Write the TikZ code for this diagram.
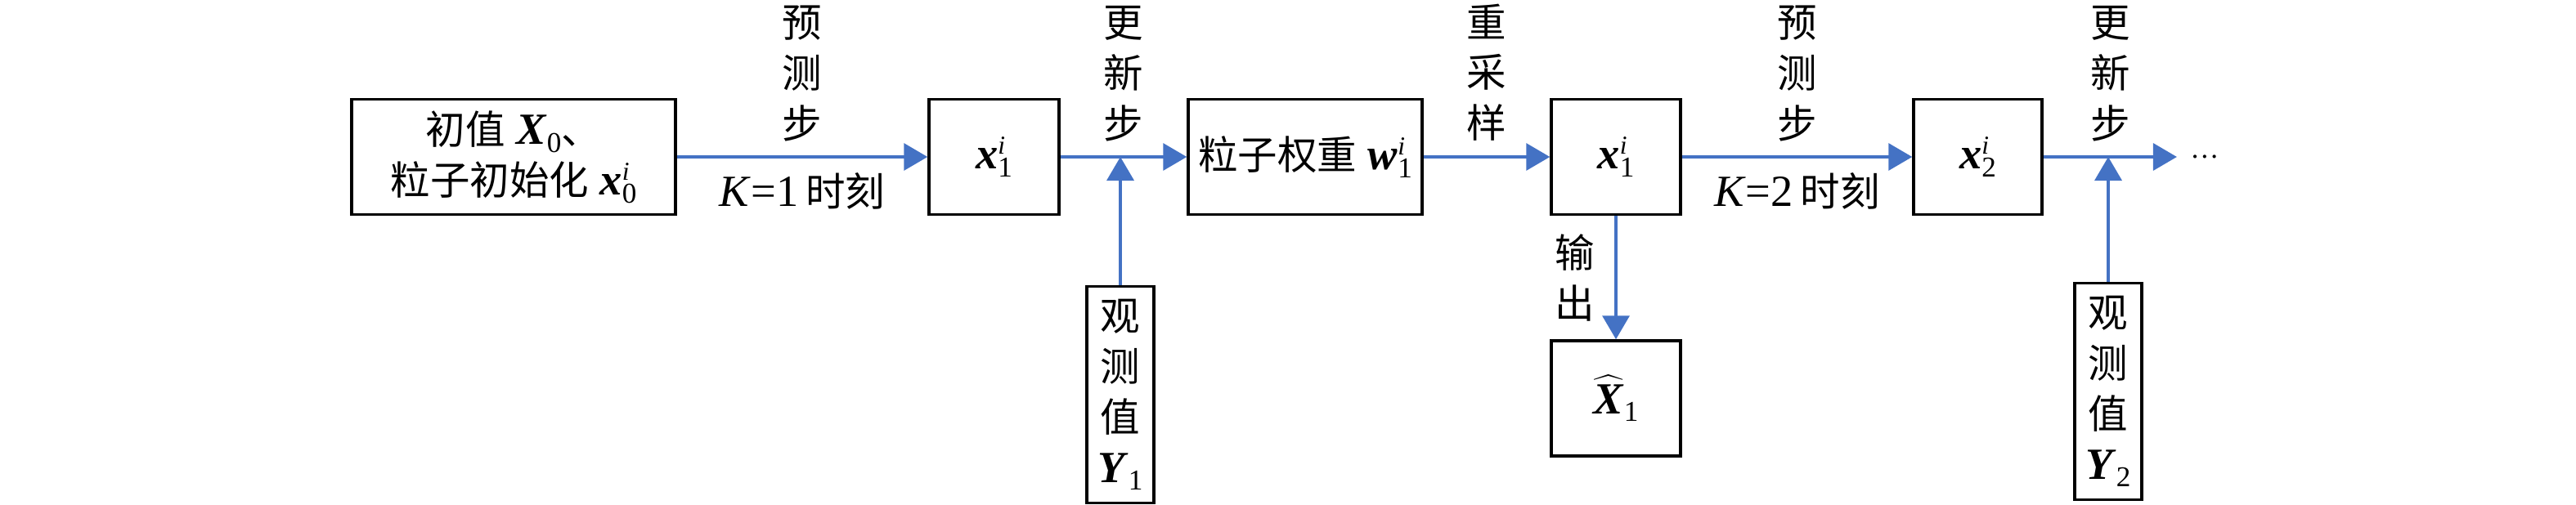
\documentclass[tikz,border=0pt]{standalone}
\usepackage{fontspec}
\setmainfont{Liberation Serif}
\newfontfamily\cjk[Scale=0.89]{Noto Sans CJK SC}
\usetikzlibrary{arrows.meta, positioning}

\newcommand{\zh}[1]{{\cjk #1}}
\newcommand{\subtxt}[1]{\raisebox{-2.8pt}{\fontsize{10}{10}\selectfont #1}}
\newcommand{\suptxt}[1]{\raisebox{5pt}{\fontsize{9}{9}\selectfont\itshape #1}}
\newcommand{\vsym}[3]{\textbf{\textit{#1}}\rlap{\suptxt{#3}}\subtxt{#2}}
\definecolor{flowblue}{RGB}{68,114,196}

\begin{document}
\begin{tikzpicture}[
        box/.style={draw, line width=1pt, minimum height=1.41cm, inner sep=0pt, align=center},
        obs/.style={draw, line width=1pt, minimum width=0.82cm, minimum height=2.65cm, inner sep=0pt, align=center},
        arr/.style={draw=flowblue, line width=1pt, -{Triangle[length=0.29cm, width=0.33cm]}},
        lbl/.style={inner sep=0pt, align=center},
        font=\fontsize{15.5}{17.6}\selectfont
    ]
        \useasboundingbox (0,0) rectangle (31.5,6.17);

        % main chain
        \node[box, minimum width=3.96cm] (init) at (6.28,4.25) {\zh{初值} \textbf{\textit{X}}\subtxt{0}\zh{、}\\\zh{粒子初始化} \vsym{x}{0}{i}};
        \node[box, minimum width=1.59cm] (pred1) at (12.155,4.25) {\vsym{x}{1}{i}};
        \node[box, minimum width=2.86cm] (wt1) at (15.96,4.25) {\zh{粒子权重} \vsym{w}{1}{i}};
        \node[box, minimum width=1.58cm] (res1) at (19.76,4.25) {\vsym{x}{1}{i}};
        \node[box, minimum width=1.57cm] (pred2) at (24.185,4.25) {\vsym{x}{2}{i}};
        \node[lbl, inner sep=4.5pt, font=\fontsize{10}{12}\selectfont] (more) at (26.96,4.25) {…};

        % observations and output
        \node[obs] (obs1) at (13.70,1.34) {\zh{观}\\\zh{测}\\\zh{值}\\\textbf{\textit{Y}}\subtxt{1}};
        \node[obs] (obs2) at (25.78,1.38) {\zh{观}\\\zh{测}\\\zh{值}\\\textbf{\textit{Y}}\subtxt{2}};
        \node[box, minimum width=1.58cm] (est1) at (19.76,1.295) {$\widehat{\mbox{\textbf{\textit{X}}}}$\subtxt{1}};

        \draw[arr] (init) -- node[lbl, above=5pt] {\zh{预}\\\zh{测}\\\zh{步}} node[lbl, below=5pt] {\textit{K}=1\,\zh{时刻}} (pred1);
        \draw[arr] (pred1) -- node[lbl, above=5pt] {\zh{更}\\\zh{新}\\\zh{步}} (wt1);
        \draw[arr] (wt1) -- node[lbl, above=5pt] {\zh{重}\\\zh{采}\\\zh{样}} (res1);
        \draw[arr] (res1) -- node[lbl, above=5pt] {\zh{预}\\\zh{测}\\\zh{步}} node[lbl, below=5pt] {\textit{K}=2\,\zh{时刻}} (pred2);
        \draw[arr] (pred2) -- node[lbl, above=5pt] {\zh{更}\\\zh{新}\\\zh{步}} (more);
        \draw[arr] (res1) -- node[lbl, left=7pt] {\zh{输}\\\zh{出}} (est1);

        % measurement inputs
        \coordinate (upd1) at (obs1.north |- pred1.east);
        \coordinate (upd2) at (obs2.north |- pred2.east);
        \draw[arr] (obs1) -- (upd1);
        \draw[arr] (obs2) -- (upd2);
    \end{tikzpicture}
\end{document}
